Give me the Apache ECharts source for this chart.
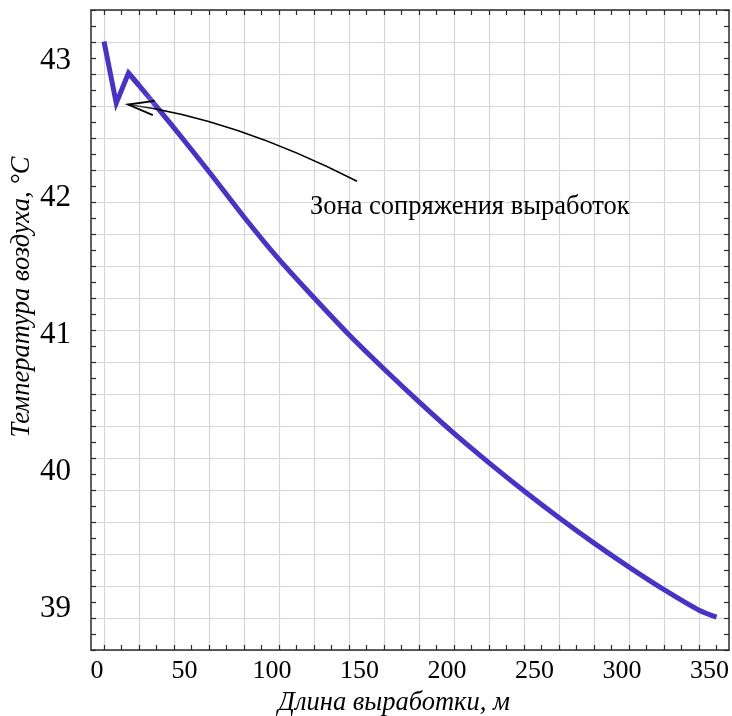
<!DOCTYPE html>
<html>
<head>
<meta charset="utf-8">
<script src="https://cdn.jsdelivr.net/npm/echarts@6/dist/echarts.min.js"></script>
<style>
  html, body { margin: 0; padding: 0; background: #fff; }
  #chart { width: 732px; height: 716px; }
</style>
</head>
<body>
<div id="chart"></div>
<script>
// Air temperature along the mine working
const distance = [0, 7, 14, 20, 40, 60, 80, 100, 120, 140, 160, 180, 200, 220, 240, 260, 280, 300, 320, 340, 350];
const temperature = [43.14, 42.69, 42.91, 42.82, 42.51, 42.19, 41.86, 41.55, 41.27, 41.00, 40.75, 40.51, 40.28, 40.065, 39.86, 39.665, 39.48, 39.305, 39.14, 38.99, 38.94];

// Axis labels
const xTickLabels = [0, 50, 100, 150, 200, 250, 300, 350];
const yTickLabels = [39, 40, 41, 42, 43];
const xName = 'Длина выработки, м';
const yName = 'Температура воздуха, °C';

// Annotation text
const noteText = 'Зона сопряжения выработок';

// Axis extents (m, °C)
const X_MIN = -7.43, X_MAX = 357.1;
const Y_MIN = 38.70, Y_MAX = 43.37;
const GRID_ROWS = 20;

// Tick and grid positions along the distance axis
const range = (a, b, s) => { const r = []; for (let v = a; v <= b + 1e-9; v += s) r.push(v); return r; };
const xTicks = range(0, 350, 10);
const xGridLines = range(0, 340, 20);

const serif = '"Liberation Serif", "DejaVu Serif", serif';
const axisColor = '#2b2b2b';
const gridColor = '#d6d6d6';
const curveColor = '#4733c9';

const points = distance.map((d, i) => [d, temperature[i]]);
// The junction zigzag is drawn with sharp corners, the decay along the working smoothly
const junction = points.slice(0, 4);
const decay = points.slice(2);

const chart = echarts.init(document.getElementById('chart'), null, { renderer: 'canvas' });

const baseX = {
  type: 'value', min: X_MIN, max: X_MAX,
  axisLine: { onZero: false, show: true, lineStyle: { color: axisColor, width: 1.5 } },
  axisTick: { show: true, inside: true, length: 5, customValues: xTicks, lineStyle: { color: axisColor, width: 1.2 } },
  axisLabel: { show: false },
  splitLine: { show: false }
};

const gridY = {
  type: 'value', min: 0, max: GRID_ROWS, interval: 1,
  axisLine: { onZero: false, show: true, lineStyle: { color: axisColor, width: 1.5 } },
  axisTick: { show: true, inside: true, length: 5, lineStyle: { color: axisColor, width: 1.2 } },
  minorTick: { show: true, splitNumber: 2, length: 5, lineStyle: { color: axisColor, width: 1.2 } },
  axisLabel: { show: false },
  splitLine: { show: false }
};

const curveStyle = { color: curveColor, width: 5, join: 'miter', cap: 'butt' };

chart.setOption({
  animation: false,
  backgroundColor: '#fff',
  grid: { left: 91, right: 3, top: 10, bottom: 66, containLabel: false, outerBoundsMode: 'none' },
  xAxis: [
    Object.assign({}, baseX, {
      position: 'bottom',
      axisLabel: {
        show: true, customValues: xTickLabels, margin: 8,
        fontFamily: serif, fontSize: 26, color: '#000', padding: [0, 14, 0, 0]
      },
      name: xName, nameLocation: 'middle', nameGap: 40, nameMoveOverlap: false,
      nameTextStyle: { fontFamily: serif, fontStyle: 'italic', fontSize: 26.5, color: '#000', padding: [0, 32, 0, 0] }
    }),
    Object.assign({}, baseX, { position: 'top' }),
    {
      type: 'value', min: X_MIN, max: X_MAX, position: 'bottom',
      axisLine: { show: false, onZero: false },
      axisTick: { show: false, customValues: xGridLines },
      axisLabel: { show: false },
      splitLine: { show: true, lineStyle: { color: gridColor, width: 1.2 } }
    }
  ],
  yAxis: [
    {
      type: 'value', min: Y_MIN, max: Y_MAX, position: 'left',
      axisLine: { show: false, onZero: false },
      axisTick: { show: false },
      splitLine: { show: false },
      axisLabel: {
        show: true, customValues: yTickLabels, margin: 20,
        fontFamily: serif, fontSize: 31, color: '#000'
      },
      name: yName, nameLocation: 'middle', nameRotate: 90, nameGap: 55, nameMoveOverlap: false,
      nameTextStyle: { fontFamily: serif, fontStyle: 'italic', fontSize: 26.5, color: '#000', padding: [0, 0, 0, 66] }
    },
    Object.assign({}, gridY, {
      position: 'left',
      splitLine: { show: true, lineStyle: { color: gridColor, width: 1.2 } }
    }),
    Object.assign({}, gridY, { position: 'right' })
  ],
  series: [
    {
      type: 'line', name: 'junction',
      xAxisIndex: 0, yAxisIndex: 0,
      data: junction,
      showSymbol: false, silent: true, z: 3,
      lineStyle: curveStyle
    },
    {
      type: 'line', name: 'decay',
      xAxisIndex: 0, yAxisIndex: 0,
      data: decay,
      smooth: 0.3,
      showSymbol: false, silent: true, z: 3,
      lineStyle: curveStyle
    }
  ]
});

// Callout arrow pointing at the junction of the workings
const toPx = (pt) => chart.convertToPixel({ xAxisIndex: 0, yAxisIndex: 0 }, pt);
const tip = toPx([13.7, 42.68]);
const ctrl = toPx([73.7, 42.58]);
const tail = toPx([144.6, 42.12]);
const notePos = toPx([117.7, 41.93]);

const ang = Math.atan2(ctrl[1] - tip[1], ctrl[0] - tip[0]);
const headLen = 27, headSpread = 0.27;
const arm1 = [tip[0] + headLen * Math.cos(ang - headSpread), tip[1] + headLen * Math.sin(ang - headSpread)];
const arm2 = [tip[0] + headLen * Math.cos(ang + headSpread), tip[1] + headLen * Math.sin(ang + headSpread)];

chart.setOption({
  graphic: [
    {
      type: 'bezierCurve', z: 10, silent: true,
      shape: { x1: tail[0], y1: tail[1], cpx1: ctrl[0], cpy1: ctrl[1], x2: tip[0], y2: tip[1] },
      style: { stroke: '#000', lineWidth: 1.6, fill: null }
    },
    {
      type: 'polyline', z: 10, silent: true,
      shape: { points: [arm1, tip, arm2] },
      style: { stroke: '#000', lineWidth: 1.8, fill: null, shadowBlur: 8, shadowColor: 'rgba(255,255,255,1)' }
    },
    {
      type: 'text', z: 10, silent: true,
      x: notePos[0], y: notePos[1],
      style: {
        text: noteText, fill: '#000',
        fontFamily: serif, fontSize: 26.5,
        verticalAlign: 'middle', align: 'left'
      }
    }
  ]
});
</script>
</body>
</html>
